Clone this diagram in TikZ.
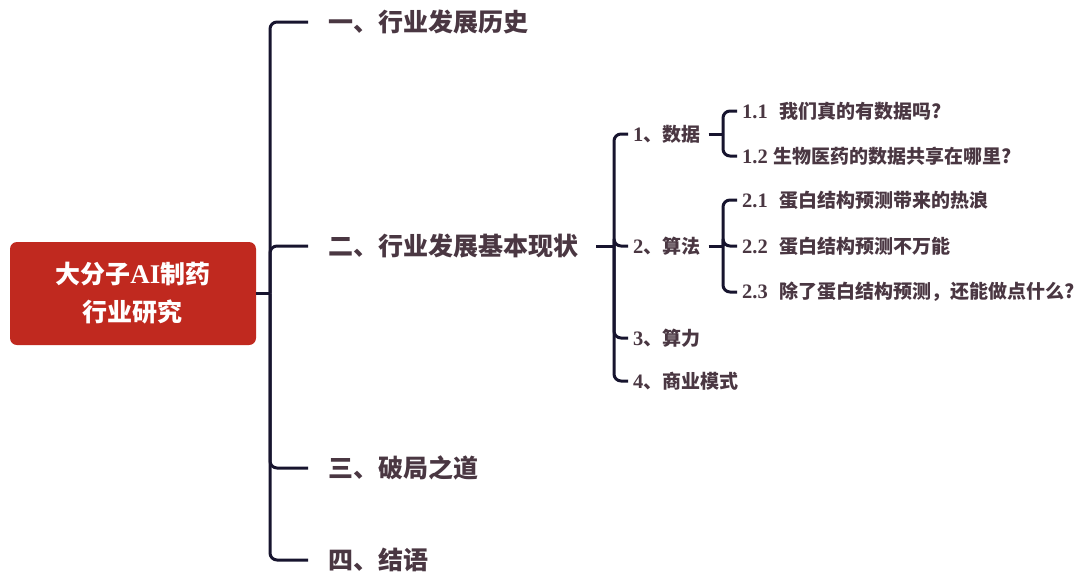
\documentclass[tikz,border=0pt]{standalone}
\usepackage{fontspec}
\setmainfont{Noto Sans CJK SC}
\newfontfamily\dgfont{Liberation Serif}
\newcommand{\dgt}[1]{{\dgfont\bfseries\fontsize{20.5}{22}\selectfont #1}}
\definecolor{rootred}{HTML}{C0291F}
\definecolor{txt}{HTML}{4A3742}
\definecolor{ln}{HTML}{17142E}
\begin{document}
\begin{tikzpicture}[x=1pt,y=-1pt,
  conn/.style={draw=ln,line width=3pt,rounded corners=7pt},
  lvA/.style={anchor=west,inner sep=0pt,text=txt,font=\fontsize{25}{28}\selectfont\bfseries},
  lvB/.style={anchor=west,inner sep=0pt,text=txt,font=\fontsize{19}{21}\selectfont\bfseries},
  rootbox/.style={fill=rootred,rounded corners=7pt,minimum width=246pt,minimum height=103pt,inner sep=0pt,text=white,align=center,font=\fontsize{25}{38}\selectfont\bfseries}]
\useasboundingbox (0,0) rectangle (1080,579);
\fill[white] (0,0) rectangle (1080,579);
% root
\node[rootbox] (root) at (133,293.5) {大分子{\dgfont\bfseries\fontsize{27}{30}\selectfont AI}制药\\行业研究};
% level 1
\node[lvA] (a1) at (328,22) {一、行业发展历史};
\node[lvA] (a2) at (328,246) {二、行业发展基本现状};
\node[lvA] (a3) at (328,468) {三、破局之道};
\node[lvA] (a4) at (328,560) {四、结语};
\coordinate (j0) at (270,293.5);
\draw[conn] (root.east) -- (j0);
\foreach \c in {a1,a2,a3,a4} \draw[conn] (j0) |- ([xshift=-20pt]\c.west);
% level 2
\node[lvB] (b1) at (633,134) {\dgt{1}、数据};
\node[lvB] (b2) at (633,246) {\dgt{2}、算法};
\node[lvB] (b3) at (633,338) {\dgt{3}、算力};
\node[lvB] (b4) at (633,381) {\dgt{4}、商业模式};
\coordinate (j1) at (614,246);
\draw[conn] ([xshift=18pt]a2.east) -- (j1);
\foreach \c in {b1,b2,b3,b4} \draw[conn] (j1) |- ([xshift=-5pt]\c.west);
% level 3
\node[lvB] (c1) at (742,111) {\dgt{1.1}\hspace{12pt}我们真的有数据吗?};
\node[lvB] (c2) at (742,156) {\dgt{1.2}\hspace{6pt}生物医药的数据共享在哪里?};
\node[lvB] (d1) at (742,200) {\dgt{2.1}\hspace{12pt}蛋白结构预测带来的热浪};
\node[lvB] (d2) at (742,246) {\dgt{2.2}\hspace{12pt}蛋白结构预测不万能};
\node[lvB] (d3) at (742,292) {\dgt{2.3}\hspace{12pt}除了蛋白结构预测，还能做点什么?};
\coordinate (j2) at (723,134);
\coordinate (j3) at (723,246);
\draw[conn] ([xshift=8pt]b1.east) -- (j2);
\draw[conn] ([xshift=8pt]b2.east) -- (j3);
\foreach \c in {c1,c2} \draw[conn] (j2) |- ([xshift=-5pt]\c.west);
\foreach \c in {d1,d2,d3} \draw[conn] (j3) |- ([xshift=-5pt]\c.west);
\end{tikzpicture}
\end{document}
